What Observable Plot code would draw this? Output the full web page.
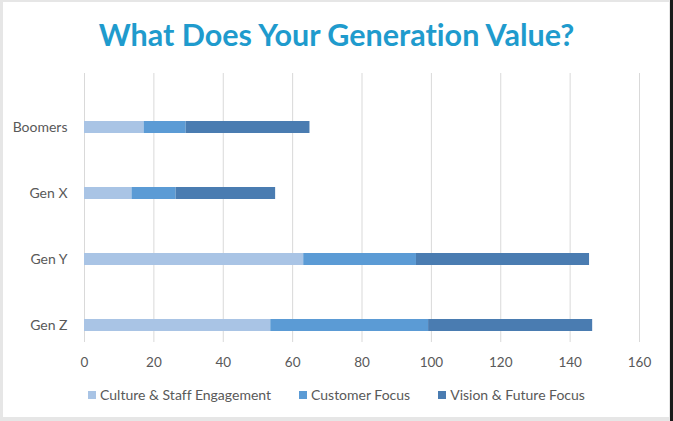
<!DOCTYPE html>
<html>
<head>
<meta charset="utf-8">
<script src="https://cdn.jsdelivr.net/npm/d3@7"></script>
<script src="https://cdn.jsdelivr.net/npm/@observablehq/plot@0.6"></script>
<style>
  body { margin: 0; background: #e6e6e6; width: 673px; height: 421px; overflow: hidden; position: relative; font-family: Lato, "Open Sans", sans-serif; font-variant-ligatures: none; }
  #frame { position: absolute; left: 3px; top: 2px; width: 666px; height: 415px; background: #fff; }
  #edge { position: absolute; right: 0; top: 0; width: 3px; height: 421px; background: #1a1a1a; }
  #title { position: absolute; left: 0; top: 14px; width: 673px; text-align: center; font-weight: 700; font-size: 30.5px; color: #1f9bcd; line-height: 40px; }
  #chart { position: absolute; left: 0; top: 62px; }
  #chart svg text { font-variant-ligatures: none; }
  #legend { position: absolute; left: 0; top: 386px; width: 673px; display: flex; justify-content: center; gap: 28px; font-size: 14px; color: #595959; line-height: 18px; }
  .item { display: flex; align-items: center; gap: 4px; }
  .sw { width: 8px; height: 8px; display: inline-block; }
</style>
</head>
<body>
<div id="frame"></div>
<div id="edge"></div>
<div id="title">What Does Your Generation Value?</div>
<div id="chart"></div>
<div id="legend"></div>
<script>
const categories = ["Boomers", "Gen X", "Gen Y", "Gen Z"];
const seriesNames = ["Culture & Staff Engagement", "Customer Focus", "Vision & Future Focus"];
const culture = [17.2, 13.7, 63.2, 53.7];
const customer = [12.1, 12.7, 32.5, 45.5];
const vision = [35.7, 28.7, 49.9, 47.3];
const xTicks = [0, 20, 40, 60, 80, 100, 120, 140, 160];
const colors = ["#a9c4e5", "#5b9bd5", "#4a7cb1"];

const seriesValues = [culture, customer, vision];
const data = [];
seriesNames.forEach((s, si) => {
  categories.forEach((c, ci) => {
    data.push({ gen: c, series: s, value: seriesValues[si][ci] });
  });
});

const chart = Plot.plot({
  width: 673,
  height: 313,
  marginLeft: 84,
  marginRight: 34,
  marginTop: 11,
  marginBottom: 33,
  style: { fontFamily: "Lato, 'Open Sans', sans-serif", fontSize: "13px", color: "#595959", background: "transparent" },
  x: { domain: [0, 160], label: null },
  y: { type: "band", domain: categories, range: [57, 270], paddingInner: 0.82, paddingOuter: 0, label: null },
  color: { domain: seriesNames, range: colors },
  marks: [
    Plot.gridX({ ticks: xTicks, stroke: "#d9d9d9", strokeOpacity: 1, strokeWidth: 1 }),
    Plot.barX(data, Plot.stackX({ x: "value", y: "gen", fill: "series", order: seriesNames })),
    Plot.axisX({ ticks: xTicks, tickSize: 0, tickPadding: 15, label: null, fontSize: 13.5 }),
    Plot.axisY({ tickSize: 0, tickPadding: 17, label: null, fontSize: 14 })
  ]
});
document.getElementById("chart").appendChild(chart);

const legend = document.getElementById("legend");
seriesNames.forEach((s, i) => {
  const item = document.createElement("div");
  item.className = "item";
  const sw = document.createElement("span");
  sw.className = "sw";
  sw.style.background = colors[i];
  const t = document.createElement("span");
  t.textContent = s;
  item.appendChild(sw);
  item.appendChild(t);
  legend.appendChild(item);
});
</script>
</body>
</html>
